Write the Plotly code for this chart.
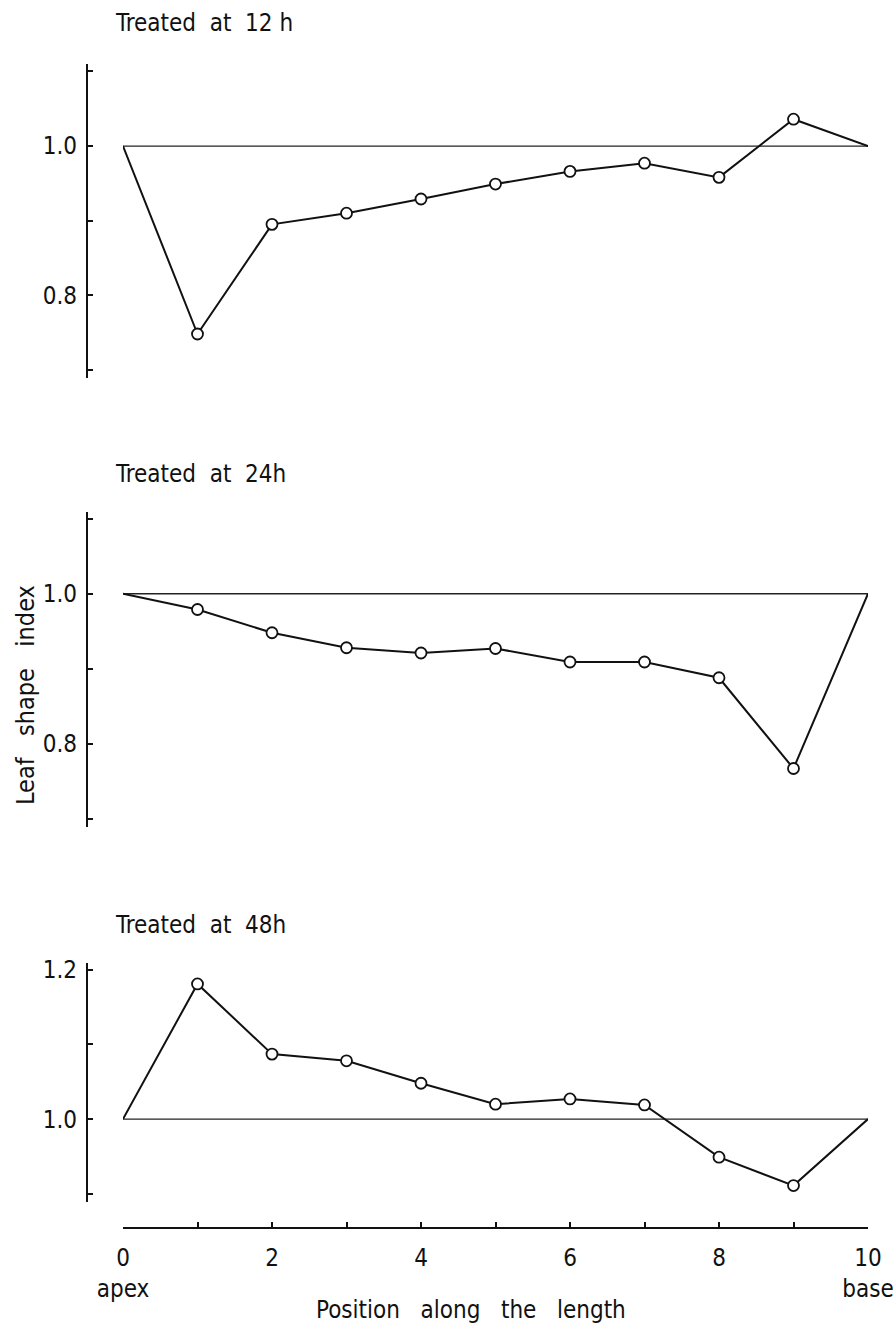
import plotly.graph_objects as go

# ---- data ----
positions = [0, 1, 2, 3, 4, 5, 6, 7, 8, 9, 10]
treated_12h = [1.000, 0.748, 0.895, 0.910, 0.929, 0.949, 0.966, 0.977, 0.958, 1.036, 1.000]
treated_24h = [1.000, 0.979, 0.948, 0.928, 0.921, 0.927, 0.909, 0.909, 0.888, 0.767, 1.000]
treated_48h = [1.000, 1.181, 1.087, 1.078, 1.048, 1.020, 1.027, 1.019, 0.949, 0.911, 1.000]
reference_x = [0, 10]
reference_y = [1.0, 1.0]
panel_titles = ["Treated  at  12 h", "Treated  at  24h", "Treated  at  48h"]
x_tickvals = [0, 2, 4, 6, 8, 10]
x_ticktext = ["0<br>apex", "2", "4", "6", "8", "10<br>base"]
y_label = "Leaf   shape   index"
x_label = "Position   along   the   length"

W, H = 893, 1327
FONT = "Liberation Sans Narrow, DejaVu Sans Condensed, DejaVu Sans, sans-serif"

fig = go.Figure()

series = [treated_12h, treated_24h, treated_48h]
for i, vals in enumerate(series):
    n = "" if i == 0 else str(i + 1)
    xa, ya = "x" + n, "y" + n
    fig.add_trace(go.Scatter(x=reference_x, y=reference_y, mode="lines",
                             line=dict(color="#222", width=1.3), xaxis=xa, yaxis=ya,
                             cliponaxis=False, showlegend=False, hoverinfo="skip"))
    fig.add_trace(go.Scatter(x=positions, y=vals, mode="lines",
                             line=dict(color="#111", width=2), xaxis=xa, yaxis=ya,
                             cliponaxis=False, showlegend=False))
    fig.add_trace(go.Scatter(x=positions[1:-1], y=vals[1:-1], mode="markers",
                             marker=dict(symbol="circle", size=11, color="white",
                                         line=dict(color="#111", width=1.8)),
                             xaxis=xa, yaxis=ya, cliponaxis=False, showlegend=False))

def px_y(p):
    return 1 - p / H

xdom = [123 / W, 868 / W]
ypos = 87 / W

panels = [
    dict(dom=[px_y(378), px_y(64)], rng=[0.689, 1.110], tick0=0.8),
    dict(dom=[px_y(827), px_y(512)], rng=[0.689, 1.109], tick0=0.8),
    dict(dom=[px_y(1202), px_y(963)], rng=[0.889, 1.209], tick0=1.0),
]

tickfont = dict(family=FONT, size=24, color="#111")
layout = dict(width=W, height=H, margin=dict(l=0, r=0, t=0, b=0),
              paper_bgcolor="white", plot_bgcolor="white", showlegend=False,
              font=dict(family=FONT, color="#111"))

for i, p in enumerate(panels):
    n = "" if i == 0 else str(i + 1)
    layout["yaxis" + n] = dict(domain=p["dom"], range=p["rng"], anchor="free", position=ypos,
                               showline=True, linecolor="#111", linewidth=2.4,
                               ticks="inside", ticklen=5, tickwidth=1.6, tickcolor="#111",
                               tick0=p["tick0"], dtick=0.2, tickformat=".1f",
                               minor=dict(dtick=0.1, tick0=p["tick0"], ticks="inside", ticklen=5,
                                          tickwidth=1.6, tickcolor="#111", showgrid=False),
                               ticklabelstandoff=4,
                               showgrid=False, zeroline=False, tickfont=tickfont,
                               automargin=False, fixedrange=True)
    if i < 2:
        layout["xaxis" + n] = dict(domain=xdom, range=[0, 10], visible=False,
                                   anchor="y" + n, fixedrange=True)
    else:
        layout["xaxis" + n] = dict(domain=xdom, range=[0, 10], anchor="free",
                                   position=px_y(1228),
                                   showline=True, linecolor="#111", linewidth=2.4,
                                   ticks="inside", ticklen=5, tickwidth=1.6, tickcolor="#111",
                                   tickvals=x_tickvals, ticktext=x_ticktext,
                                   minor=dict(dtick=1, tick0=0, ticks="inside", ticklen=5,
                                              tickwidth=1.6, tickcolor="#111", showgrid=False),
                                   ticklabelstandoff=8, ticklabeloverflow="allow",
                                   showgrid=False, zeroline=False, tickfont=tickfont,
                                   automargin=False, fixedrange=True)

fig.update_layout(**layout)

title_y = [23, 474, 925]
for t, yy in zip(panel_titles, title_y):
    fig.add_annotation(text=t, xref="paper", yref="paper", x=113 / W, y=px_y(yy),
                       xanchor="left", yanchor="middle", showarrow=False,
                       font=dict(family=FONT, size=24, color="#111"))

fig.add_annotation(text=y_label, xref="paper", yref="paper", x=25 / W, y=px_y(695),
                   textangle=-90, xanchor="center", yanchor="middle", showarrow=False,
                   font=dict(family=FONT, size=25, color="#111"))
fig.add_annotation(text=x_label, xref="paper", yref="paper", x=471 / W, y=px_y(1310),
                   xanchor="center", yanchor="middle", showarrow=False,
                   font=dict(family=FONT, size=24, color="#111"))

fig.write_html("out.html")
